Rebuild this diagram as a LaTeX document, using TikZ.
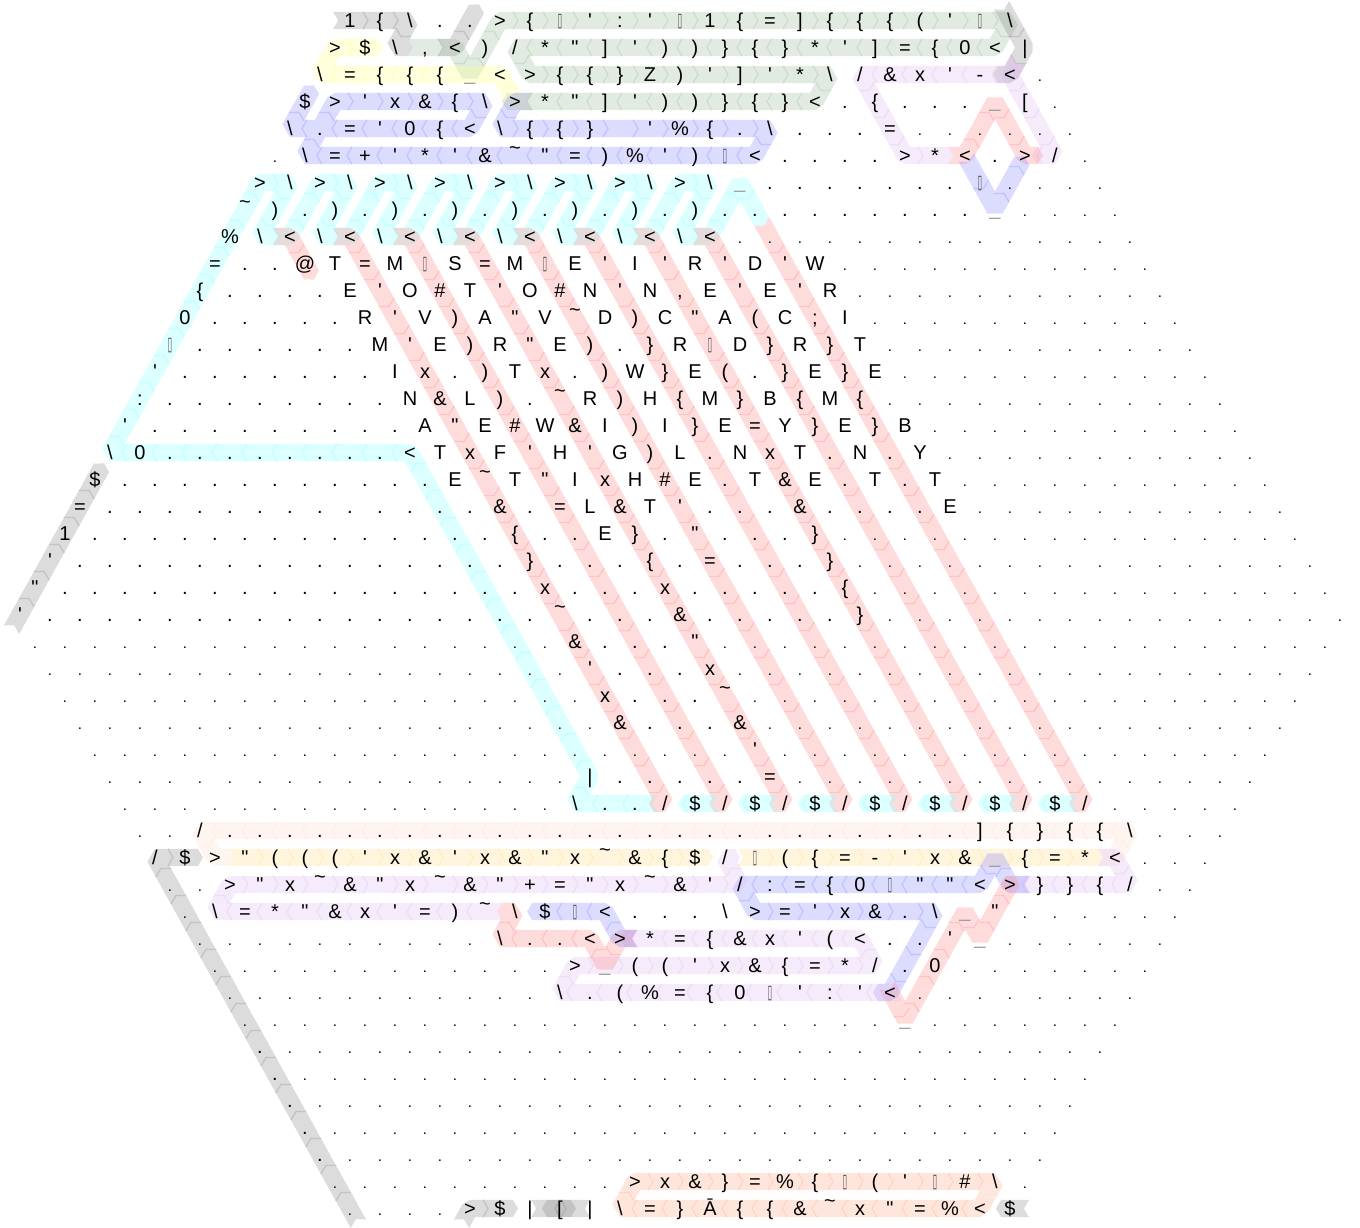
\documentclass[tikz,border=0pt]{standalone}
\usepackage{fontspec}
\newfontfamily\hexfont{Liberation Sans}
\newfontfamily\boxfont{DejaVu Sans}
\definecolor{hexred}{RGB}{255,0,0}
\definecolor{hexblue}{RGB}{0,0,255}
\definecolor{hexcyan}{RGB}{0,255,255}
\definecolor{hexgray}{RGB}{0,0,0}
\definecolor{hexgreen}{RGB}{38,110,38}
\definecolor{hexyellow}{RGB}{255,255,0}
\definecolor{hexpurple}{RGB}{183,110,219}
\definecolor{hexpale}{RGB}{255,183,146}
\definecolor{hexgold}{RGB}{255,183,1}
\definecolor{hexorange}{RGB}{255,74,0}
\newcommand{\bsl}{\textbackslash}
\newcommand{\tld}{\raisebox{8pt}{\textasciitilde}}
\newcommand{\hus}{\raisebox{1.3pt}{\textcolor{black!38}{\_}}}
\newcommand{\cma}{,}
\newcommand{\lpa}{(}
\newcommand{\tfu}{\raisebox{1pt}{\textcolor{black!70}{\scalebox{.42}[.95]{\boxfont ▯}}}}
\newcommand{\dotch}{.}
\tikzset{
  cell/.style={inner sep=0pt,anchor=base,font=\hexfont\fontsize{20}{24}\selectfont},
  celldot/.style={inner sep=0pt,anchor=base,font=\hexfont\fontsize{15}{18}\selectfont},
  bandline/.style={line width=17.4pt,line join=bevel,line cap=butt,shorten <=3pt,shorten >=2pt},
  chevline/.style={line width=1.3pt,line join=miter}
}
% dots that run up to a row's written cells and on from them
\newcommand{\dotrun}[3]{%
  \ifnum#2>#3\else
    \pgfmathtruncatemacro\dotn{(#3-#2)/30}
    \foreach \dk in {0,...,\dotn} {
      \pgfmathtruncatemacro\cx{#2+30*\dk}
      \pgfmathsetmacro\by{27.5+27*#1}
      \node[celldot] (c#1-\cx) at (\cx,\by) {.};
    }
  \fi}
\newcommand{\hexrow}[3]{%
  \pgfmathtruncatemacro\rowmid{min(#1,44-#1)}
  \pgfmathtruncatemacro\rowa{350-15*\rowmid}
  \pgfmathtruncatemacro\rowb{1010+15*\rowmid}
  \pgfmathtruncatemacro\leadb{#2-30}
  \dotrun{#1}{\rowa}{\leadb}
  \foreach \ch [count=\ci from 0] in {#3} {
    \pgfmathtruncatemacro\cx{#2+30*\ci}
    \pgfmathsetmacro\by{27.5+27*#1}
    \ifx\ch\dotch
      \node[celldot] (c#1-\cx) at (\cx,\by) {.};
    \else
      \node[cell] (c#1-\cx) at (\cx,\by) {\ch};
    \fi
    \pgfmathtruncatemacro\nx{\cx+30}
    \xdef\nextx{\nx}
  }
  \dotrun{#1}{\nextx}{\rowb}}
% one coloured way through the cells: colour, then x/row points
\newcommand{\hexband}[2]{%
  \begin{scope}[transparency group,opacity=.3]
    \path (0,0) rectangle (1360,1228);
    \foreach \xb/\rb [count=\k,remember=\xb as \xa (initially 0),remember=\rb as \ra (initially 0)] in {#2} {
      \pgfmathsetmacro\yb{20.5+27*(\rb)}
      \ifnum\k=1
        \xdef\bandpath{(\xb,\yb)}
      \else
        \xdef\bandpath{\bandpath -- (\xb,\yb)}
        \pgfmathsetmacro\ya{20.5+27*(\ra)}
        \pgfmathsetmacro\ang{atan2(\ya-\yb,\xb-\xa)}
        \xdef\endx{\xb}\xdef\endy{\yb}\xdef\endang{\ang}
        \pgfmathsetmacro\ncell{abs(\yb-\ya)<1 ? abs(\xb-\xa)/30 : abs(\yb-\ya)/27}
        \pgfmathtruncatemacro\nj{ceil(\ncell)}
        \ifnum\k=2
          \def\phs{0}
          \fill[#1!46!white,shift={(\xa,\ya)},rotate=\ang] (-2,-8.7) -- (3.2,-8.7) -- (3.2,0) -- cycle (-2,8.7) -- (3.2,8.7) -- (3.2,0) -- cycle;
        \else
          \def\phs{.5}
        \fi
        \foreach \j in {0,...,\nj} {
          \pgfmathsetmacro\tc{\j+\phs}
          \pgfmathtruncatemacro\okc{(\tc>0.01 && \tc<\ncell-0.01) ? 1 : 0}
          \ifnum\okc=1
            \pgfmathsetmacro\px{\xa+(\xb-\xa)/\ncell*\tc}
            \pgfmathsetmacro\py{\ya+(\yb-\ya)/\ncell*\tc}
            \xdef\chevs{\noexpand\draw[chevline,#1!78!white,shift={(\px,\py)},rotate=\ang] (-2,-8.7) -- (3,0) -- (-2,8.7);}
            \chevlater
          \fi
        }
      \fi
    }
    \draw[bandline,#1!46!white] \bandpath;
    \fill[#1!46!white,shift={(\endx,\endy)},rotate=\endang] (-2.2,-8.7) -- (3,0) -- (-2.2,8.7) -- cycle;
    \chevlist
  \end{scope}
  \gdef\chevlist{}}
\newcommand{\chevlist}{}
\newcommand{\chevlater}{\xdef\chevlist{\unexpanded\expandafter{\chevlist}\unexpanded\expandafter{\chevs}}}
\begin{document}
\begin{tikzpicture}[x=1pt,y=-1pt]
  \useasboundingbox (0,0) rectangle (1360,1228);
  % top left
  \hexband{hexgray}{335/0,410/0,395/1,410/1}
  \hexband{hexgray}{440/1,455/1,470/0,477.5/-.5}
  \hexband{hexgreen}{410/1,455/1,470/2,500/0,1010/0,995/1,515/1,530/2,830/2,815/3,505/3}
  \hexband{hexyellow}{530/3,515/3,500/2,320/2,335/1,380/1}
  \hexband{hexblue}{530/3,515/3,500/4,770/4,755/5,305/5,335/3,485/3,470/4,290/4,312.5/2.5}
  % top right
  \hexband{hexgray}{1002.5/-.5,1025/1,1010/2,996/2}
  \hexband{hexpurple}{1017.5/1.5,1010/2,860/2,905/5,950/5}
  \hexband{hexpurple}{1017.5/1.5,1010/2,1055/5,1035/5}
  \hexband{hexred}{950/5,965/5,995/3,1025/5,1040/5}
  \hexband{hexblue}{967/5.13,995/7,1023/5.13}
  % the big comb
  \hexband{hexcyan}{656/29,575/29,590/28,410/16,110/16,260/6,290/6,260/8,290/8,320/6,350/6,320/8,350/8,380/6,410/6,380/8,410/8,440/6,470/6,440/8,470/8,500/6,530/6,500/8,530/8,560/6,590/6,560/8,590/8,620/6,650/6,620/8,650/8,680/6,710/6,680/8,710/8,740/6,762.5/7.5}
  \hexband{hexred}{275/8,290/8,312.5/9.5}
  \hexband{hexred}{335/8,350/8,665/29,652/29}
  \hexband{hexred}{395/8,410/8,725/29,712/29}
  \hexband{hexred}{455/8,470/8,785/29,772/29}
  \hexband{hexred}{515/8,530/8,845/29,832/29}
  \hexband{hexred}{575/8,590/8,905/29,892/29}
  \hexband{hexred}{635/8,650/8,965/29,952/29}
  \hexband{hexred}{695/8,710/8,1025/29,1012/29}
  \hexband{hexred}{762.5/7.5,1085/29,1072/29}
  \hexband{hexcyan}{716/29,681/29}
  \hexband{hexcyan}{776/29,741/29}
  \hexband{hexcyan}{836/29,801/29}
  \hexband{hexcyan}{896/29,861/29}
  \hexband{hexcyan}{956/29,921/29}
  \hexband{hexcyan}{1016/29,981/29}
  \hexband{hexcyan}{1076/29,1041/29}
  \hexband{hexgray}{12.5/22.5,95/17,102.5/16.5}
  % lower block
  \hexband{hexgray}{357.5/44.5,155/31,200/31}
  \hexband{hexpale}{1100/31,1115/31,1130/30,200/30,215/31,230/31}
  \hexband{hexgold}{230/31,710/31}
  \hexband{hexgold}{740/31,1100/31}
  \hexband{hexpurple}{1100/31,1115/31,1130/32,1005/32}
  \hexband{hexblue}{1028/32,1010/32,995/31,980/32,740/32,755/33,935/33,890/36,876/36}
  \hexband{hexred}{888/35.8,905/37,965/33,980/34,1010/32,1014/31.8}
  \hexband{hexpurple}{500/33,215/33,230/32,740/32,725/31,737/31}
  \hexband{hexpurple}{900/36,560/36,575/35,875/35,860/34,623/34}
  \hexband{hexred}{635/34,620/34,605/35,590/34,500/34,515/33,500/33}
  \hexband{hexblue}{635/34,620/34,605/33,530/33}
  % bottom
  \hexband{hexgray}{462.5/44.5,470/44,515/44}
  \hexband{hexgray}{533/44,573/44}
  \hexband{hexgray}{588/44,545/44}
  \hexband{hexgray}{1027/44,999/44}
  \hexband{hexorange}{987.5/43.5,980/44,620/44,635/43,995/43,987.5/43.5}
  % the cells, row by row
  \hexrow{0}{350}{1,\{,\bsl,.,.,>,\{,\tfu,',:,',\tfu,1,\{,=,],\{,\{,\{,\lpa,',\tfu,\bsl}
  \hexrow{1}{335}{>,\$,\bsl,\cma,<,),/,*,",],',),),\},\{,\},*,',],=,\{,0,<,|}
  \hexrow{2}{320}{\bsl,=,\{,\{,\{,\hus,<,>,\{,\{,\},Z,),',],',*,\bsl,/,\&,x,',-,<}
  \hexrow{3}{305}{\$,>,',x,\&,\{,\bsl,>,*,",],',),),\},\{,\},<,.,\{,.,.,.,\hus,[}
  \hexrow{4}{290}{\bsl,.,=,',0,\{,<,\bsl,\{,\{,\},{},',\%,\{,.,\bsl,.,.,.,=}
  \hexrow{5}{305}{\bsl,=,+,',*,',\&,\tld,",=,),\%,',),\tfu,<,.,.,.,.,>,*,<,.,>,/}
  \hexrow{6}{260}{>,\bsl,>,\bsl,>,\bsl,>,\bsl,>,\bsl,>,\bsl,>,\bsl,>,\bsl,\hus,.,.,.,.,.,.,.,\tfu}
  \hexrow{7}{245}{\tld,),.,),.,),.,),.,),.,),.,),.,),.,.,.,.,.,.,.,.,.,\hus}
  \hexrow{8}{230}{\%,\bsl,<,\bsl,<,\bsl,<,\bsl,<,\bsl,<,\bsl,<,\bsl,<,\bsl,<}
  \hexrow{9}{215}{=,.,.,@,T,=,M,\tfu,S,=,M,\tfu,E,',I,',R,',D,',W}
  \hexrow{10}{200}{\{,.,.,.,.,E,',O,\#,T,',O,\#,N,',N,\cma,E,',E,',R}
  \hexrow{11}{185}{0,.,.,.,.,.,R,',V,),A,",V,\tld,D,),C,",A,\lpa,C,;,I}
  \hexrow{12}{170}{\tfu,.,.,.,.,.,.,M,',E,),R,",E,),.,\},R,\tfu,D,\},R,\},T}
  \hexrow{13}{155}{',.,.,.,.,.,.,.,I,x,.,),T,x,.,),W,\},E,\lpa,.,\},E,\},E}
  \hexrow{14}{140}{:,.,.,.,.,.,.,.,.,N,\&,L,),.,\tld,R,),H,\{,M,\},B,\{,M,\{}
  \hexrow{15}{125}{',.,.,.,.,.,.,.,.,.,A,",E,\#,W,\&,I,),I,\},E,=,Y,\},E,\},B}
  \hexrow{16}{110}{\bsl,0,.,.,.,.,.,.,.,.,<,T,x,F,',H,',G,),L,.,N,x,T,.,N,.,Y}
  \hexrow{17}{95}{\$,.,.,.,.,.,.,.,.,.,.,.,E,\tld,T,",I,x,H,\#,E,.,T,\&,E,.,T,.,T}
  \hexrow{18}{80}{=,.,.,.,.,.,.,.,.,.,.,.,.,.,\&,.,=,L,\&,T,',.,.,.,\&,.,.,.,.,E}
  \hexrow{19}{65}{1,.,.,.,.,.,.,.,.,.,.,.,.,.,.,\{,.,.,E,\},.,",.,.,.,\}}
  \hexrow{20}{50}{',.,.,.,.,.,.,.,.,.,.,.,.,.,.,.,\},.,.,.,\{,.,=,.,.,.,\}}
  \hexrow{21}{35}{",.,.,.,.,.,.,.,.,.,.,.,.,.,.,.,.,x,.,.,.,x,.,.,.,.,.,\{}
  \hexrow{22}{20}{',.,.,.,.,.,.,.,.,.,.,.,.,.,.,.,.,.,\tld,.,.,.,\&,.,.,.,.,.,\}}
  \hexrow{23}{575}{\&,.,.,.,"}
  \hexrow{24}{590}{',.,.,.,x}
  \hexrow{25}{605}{x,.,.,.,\tld}
  \hexrow{26}{620}{\&,.,.,.,\&}
  \hexrow{27}{755}{'}
  \hexrow{28}{590}{|,.,.,.,.,.,=}
  \hexrow{29}{575}{\bsl,.,.,/,\$,/,\$,/,\$,/,\$,/,\$,/,\$,/,\$,/}
  \hexrow{30}{200}{/,.,.,.,.,.,.,.,.,.,.,.,.,.,.,.,.,.,.,.,.,.,.,.,.,.,],\{,\},\{,\{,\bsl}
  \hexrow{31}{155}{/,\$,>,",\lpa,\lpa,\lpa,',x,\&,',x,\&,",x,\tld,\&,\{,\$,/,\tfu,\lpa,\{,=,-,',x,\&,\hus,\{,=,*,<}
  \hexrow{32}{230}{>,",x,\tld,\&,",x,\tld,\&,",+,=,",x,\tld,\&,',/,:,=,\{,0,\tfu,",",<,>,\},\},\{,/}
  \hexrow{33}{215}{\bsl,=,*,",\&,x,',=,),\tld,\bsl,\$,\tfu,<,.,.,.,\bsl,>,=,',x,\&,.,\bsl,\hus,"}
  \hexrow{34}{500}{\bsl,.,.,<,>,*,=,\{,\&,x,',\lpa,<,.,.,',\hus}
  \hexrow{35}{575}{>,\hus,\lpa,\lpa,',x,\&,\{,=,*,/,.,0}
  \hexrow{36}{560}{\bsl,.,\lpa,\%,=,\{,0,\tfu,',:,',<}
  \hexrow{37}{905}{\hus}
  \hexrow{38}{260}{.}
  \hexrow{39}{275}{.}
  \hexrow{40}{290}{.}
  \hexrow{41}{305}{.}
  \hexrow{42}{320}{.}
  \hexrow{43}{635}{>,x,\&,\},=,\%,\{,\tfu,\lpa,',\tfu,\#,\bsl}
  \hexrow{44}{470}{>,\$,|,[,|,\bsl,=,\},Ā,\{,\{,\&,\tld,x,",=,\%,<,\$}
\end{tikzpicture}
\end{document}
